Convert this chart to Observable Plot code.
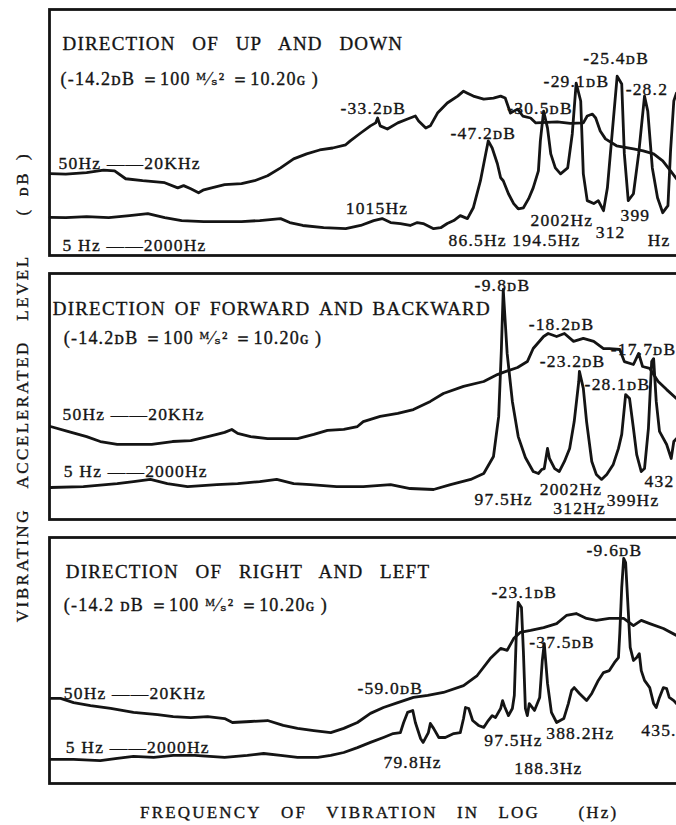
<!DOCTYPE html>
<html>
<head>
<meta charset="utf-8">
<script src="https://cdn.jsdelivr.net/npm/d3@7"></script>
<script src="https://cdn.jsdelivr.net/npm/@observablehq/plot@0.6"></script>
<style>
  body { margin: 0; background: #fff; }
  #wrap { position: relative; width: 676px; height: 825px; overflow: hidden; background: #fff; }
  #chart { position: absolute; left: 0; top: 0; width: 720px; }
  #chart svg { max-width: none !important; width: 720px; height: 790px; }
  #chart svg text { letter-spacing: 1.2px; }
  .ylab { position: absolute; left: 23px; top: 387px; transform: translate(-50%, -50%) rotate(-90deg);
          white-space: nowrap; font: 17px "Liberation Serif", "DejaVu Serif", serif; letter-spacing: 2.5px; color: #141414;
          -webkit-text-stroke: 0.35px #141414; }
  .xlab { position: absolute; left: 140px; top: 803px; white-space: nowrap; line-height: 18px;
          font: 17px "Liberation Serif", "DejaVu Serif", serif; letter-spacing: 2.2px; color: #141414;
          -webkit-text-stroke: 0.35px #141414; }
</style>
</head>
<body>
<div id="wrap">
  <div id="chart"></div>
  <div class="ylab" id="ylab"></div>
  <div class="xlab" id="xlab"></div>
</div>
<script>
// ---- panels (directions of vibration) ----
const panels = ["UP AND DOWN", "FORWARD AND BACKWARD", "RIGHT AND LEFT"];

// x: position along the log-frequency axis (% of panel width), y: relative level (% of panel height)
// Panel 1 - up and down
const upWide = [[0.1,33.3],[2.5,33.1],[5.7,33.7],[8.3,34.7],[10.0,34.4],[11.7,31.2],[14.3,30.4],[17.7,29.6],[19.7,27.5],[20.6,28.4],[21.7,27.1],[22.9,25.5],[23.7,26.7],[24.9,27.5],[26.9,28.8],[29.5,29.2],[31.5,30.4],[33.5,32.4],[35.5,35.6],[37.5,39.3],[39.5,41.3],[41.5,42.9],[43.5,43.7],[45.5,45.0],[46.2,46.6],[47.8,49.8],[49.3,52.7],[50.1,53.9],[50.4,55.9],[50.8,52.7],[51.9,51.4],[53.5,53.9],[55.0,55.5],[56.2,56.7],[56.7,54.7],[57.8,51.8],[58.5,52.7],[59.6,57.9],[61.1,62.0],[62.7,64.8],[63.6,66.8],[64.2,66.0],[65.1,64.8],[66.7,63.6],[68.2,64.0],[69.3,64.8],[70.0,64.0],[70.8,57.9],[71.9,59.5],[72.7,56.7],[73.9,55.9],[74.7,53.9],[78.0,54.3],[80.0,53.7],[82.0,53.9],[82.6,56.7],[83.4,57.5],[83.9,55.9],[84.6,50.6],[85.4,47.4],[87.1,44.6],[89.7,43.3],[91.2,42.5],[92.8,41.3],[94.2,38.5],[95.4,34.4],[96.3,31.2],[98.5,26.3]];
const upLow = [[0.1,15.5],[2.5,15.4],[5.7,15.8],[9.1,15.4],[12.3,16.2],[15.1,17.0],[17.7,15.4],[20.3,14.2],[23.7,13.8],[26.9,13.8],[29.5,13.8],[32.3,14.2],[35.5,15.0],[36.9,13.4],[38.9,12.2],[42.1,11.3],[45.5,10.9],[47.8,12.2],[49.8,14.2],[51.1,15.0],[52.4,13.4],[53.9,13.0],[55.4,12.2],[56.5,13.4],[57.4,13.0],[59.0,10.9],[60.1,11.3],[61.1,13.0],[62.1,14.2],[63.1,16.2],[64.2,15.0],[65.1,19.4],[66.2,30.4],[67.0,41.3],[67.4,46.6],[68.0,43.7],[68.8,37.3],[69.3,31.6],[69.7,30.4],[70.5,25.1],[71.3,21.1],[72.0,19.0],[72.8,19.4],[73.6,23.1],[74.3,27.5],[75.1,34.4],[75.4,46.6],[75.9,58.7],[76.5,51.8],[77.0,41.3],[77.7,35.6],[78.5,33.2],[79.6,35.6],[80.3,49.4],[80.9,70.1],[81.6,62.8],[82.0,33.2],[82.6,22.3],[83.6,21.1],[84.3,22.3],[85.1,18.2],[85.7,27.5],[86.5,51.8],[87.2,72.9],[87.9,69.7],[88.3,41.3],[88.9,22.3],[89.7,25.1],[90.5,41.3],[91.4,64.8],[91.9,58.7],[92.6,35.6],[93.4,23.5],[94.2,17.4],[95.0,20.3],[95.4,42.5],[95.9,62.8],[96.3,66.0],[98.5,64.8]];
// Panel 2 - forward and backward
const fbWide = [[0.15,37.8],[2.8,35.8],[5.7,33.7],[7.8,31.7],[10.4,30.5],[12.4,30.5],[15.7,30.5],[18.9,31.7],[21.7,32.1],[24.3,33.7],[25.7,34.6],[26.9,35.4],[28.0,36.6],[28.9,35.0],[30.9,33.7],[33.5,32.9],[35.5,32.9],[38.1,32.9],[40.6,34.6],[42.7,36.2],[45.2,36.6],[47.3,37.8],[48.2,39.8],[50.8,41.9],[53.5,43.1],[55.9,44.7],[58.5,48.0],[60.5,51.2],[63.6,54.1],[66.7,56.1],[68.8,58.9],[69.7,59.8],[71.9,61.8],[73.4,64.2],[74.3,69.5],[75.9,74.4],[76.6,75.6],[77.9,74.4],[79.1,75.6],[80.5,72.4],[82.0,73.6],[83.6,72.4],[85.1,69.5],[86.0,69.5],[87.6,69.1],[88.3,64.2],[89.7,63.0],[90.5,67.5],[91.1,62.2],[92.2,61.4],[93.5,56.1],[94.8,52.8],[96.3,49.2],[98.5,45.9]];
const fbLow = [[0.15,13.0],[5.2,13.4],[10.4,14.6],[12.9,15.4],[15.5,16.3],[18.1,14.6],[21.2,13.4],[25.7,14.2],[28.9,14.6],[32.3,15.4],[34.9,16.3],[37.5,14.6],[40.1,14.2],[44.1,13.4],[48.2,13.4],[52.4,14.2],[55.4,12.6],[59.0,12.2],[61.6,14.2],[64.7,16.3],[66.7,18.7],[68.2,25.6],[69.0,41.9],[69.4,68.3],[69.7,93.5],[70.3,67.5],[71.1,48.0],[72.0,33.7],[73.1,25.2],[74.3,19.5],[75.1,18.7],[75.6,20.3],[76.0,20.7],[76.5,28.9],[76.8,24.8],[77.6,20.7],[78.3,19.5],[79.1,23.6],[79.9,28.9],[80.6,39.8],[81.3,56.1],[81.4,60.2],[82.0,53.3],[82.5,39.8],[83.3,23.6],[84.0,18.3],[84.8,16.3],[85.6,18.3],[86.6,22.4],[87.4,28.9],[87.9,34.6],[88.5,50.8],[89.1,49.2],[89.7,37.0],[90.2,26.4],[90.9,19.5],[91.4,20.7],[92.0,37.0],[92.2,48.0],[92.5,64.2],[92.8,65.4],[93.2,48.0],[93.7,35.8],[94.8,30.5],[95.5,24.8],[95.9,31.7],[96.3,32.9],[98.5,31.7]];
// Panel 3 - right and left
const rlWide = [[0.15,34.6],[1.7,34.6],[3.7,32.9],[6.3,31.7],[9.4,30.5],[12.9,28.9],[16.6,28.0],[19.0,27.2],[21.7,26.8],[24.3,27.2],[26.9,26.4],[28.1,24.8],[30.9,25.2],[33.5,25.6],[35.9,23.6],[38.1,22.4],[40.6,21.5],[43.2,20.7],[45.2,22.4],[47.3,24.8],[49.3,28.5],[51.3,30.9],[53.5,32.9],[55.9,35.0],[58.1,35.8],[60.5,37.0],[63.6,39.8],[65.7,43.9],[67.7,50.8],[69.3,54.9],[70.3,54.1],[71.3,58.9],[72.3,61.4],[73.9,62.2],[75.9,63.4],[77.9,65.0],[79.4,68.3],[80.9,69.1],[82.5,67.1],[84.0,66.3],[86.0,67.1],[88.2,67.1],[89.7,64.2],[90.9,66.3],[92.2,65.0],[94.3,63.0],[96.3,60.2],[98.5,58.1]];
const rlLow = [[0.15,9.8],[3.7,9.8],[7.8,9.3],[10.4,10.2],[12.9,11.0],[16.0,10.6],[19.0,11.4],[22.3,11.4],[26.9,10.6],[30.4,11.4],[32.9,12.2],[35.5,11.4],[38.1,10.6],[41.2,10.6],[43.2,11.4],[45.2,12.6],[47.3,14.6],[49.3,16.7],[51.3,18.7],[52.8,20.3],[53.9,20.7],[54.4,24.8],[55.0,28.9],[55.8,29.7],[56.2,24.8],[57.0,18.3],[57.4,16.7],[58.2,20.7],[58.5,24.4],[59.0,22.4],[59.8,18.7],[60.8,18.7],[62.1,20.3],[63.1,20.7],[63.6,26.4],[63.9,30.9],[64.4,30.5],[65.0,25.6],[65.9,23.6],[66.7,22.8],[67.4,25.6],[68.0,27.6],[68.5,26.8],[69.3,30.5],[69.6,33.7],[69.9,31.3],[70.5,27.6],[71.1,30.5],[71.4,35.8],[71.7,60.2],[72.0,73.6],[72.5,71.5],[72.8,53.3],[73.1,30.5],[73.4,27.6],[73.7,32.5],[74.5,29.7],[75.3,35.0],[75.7,50.0],[76.0,56.9],[76.5,40.7],[77.1,28.9],[77.9,24.8],[79.0,26.4],[79.7,32.5],[80.2,37.8],[80.6,39.0],[81.4,36.6],[82.5,33.7],[83.3,36.6],[84.3,41.9],[85.1,45.1],[86.0,45.9],[86.8,49.2],[87.4,51.2],[87.6,61.0],[87.9,79.7],[88.2,91.5],[88.5,89.8],[88.9,70.3],[89.2,55.3],[89.7,50.0],[90.2,51.2],[90.6,52.8],[90.9,45.9],[91.4,41.9],[92.2,39.0],[92.8,32.5],[93.2,30.9],[93.7,35.0],[94.3,39.0],[94.8,38.6],[95.2,35.0],[95.9,33.7],[96.3,32.5],[98.5,31.7]];

// ---- texts ----
const titles = [
  [panels[0], 2.0, 85.9, "DIRECTION\u2002 OF\u2002 UP\u2002 AND\u2002 DOWN"],
  [panels[1], 0.5, 85.8, "DIRECTION \u200AOF \u200AFORWARD \u200AAND \u200ABACKWARD"],
  [panels[2], 2.5, 86.2, "DIRECTION\u2002 OF\u2002 RIGHT\u2002 AND\u2002 LEFT"]
];
const subtitles = [
  [panels[0], 1.7, 71.7, "(-14.2ᴅB ＝100 ᴹ⁄ₛ² ＝10.20ɢ )"],
  [panels[1], 2.2, 73.6, "(-14.2ᴅB ＝100 ᴹ⁄ₛ² ＝10.20ɢ )"],
  [panels[2], 2.2, 72.4, "(-14.2 ᴅB ＝100 ᴹ⁄ₛ² ＝10.20ɢ )"]
];
const sweepLabels = [
  [panels[0], 1.4, 37.3, "50Hz ——20KHz"], [panels[0], 2.0, 4.0, "5 Hz ——2000Hz"],
  [panels[1], 2.0, 42.7, "50Hz ——20KHz"], [panels[1], 2.2, 19.5, "5 Hz ——2000Hz"],
  [panels[2], 2.2, 36.6, "50Hz ——20KHz"], [panels[2], 2.5, 14.6, "5 Hz ——2000Hz"]
];
const peakLabels = [
  [panels[0], 44.7, 59.9, "-33.2ᴅB"], [panels[0], 45.5, 19.0, "1015Hz"], [panels[0], 61.6, 49.8, "-47.2ᴅB"],
  [panels[0], 61.3, 6.1, "86.5Hz 194.5Hz"], [panels[0], 70.3, 59.9, "-30.5ᴅB"], [panels[0], 73.9, 14.2, "2002Hz"],
  [panels[0], 75.9, 70.9, "-29.1ᴅB"], [panels[0], 82.0, 80.2, "-25.4ᴅB"], [panels[0], 88.5, 67.6, "-28.2"],
  [panels[0], 83.9, 9.3, "312"], [panels[0], 87.7, 16.2, "399"], [panels[0], 91.9, 6.1, "Hz"],
  [panels[1], 65.3, 95.1, "-9.8ᴅB"], [panels[1], 73.6, 79.3, "-18.2ᴅB"], [panels[1], 86.2, 69.1, "-17.7ᴅB"],
  [panels[1], 75.3, 64.2, "-23.2ᴅB"], [panels[1], 82.2, 54.9, "-28.1ᴅB"], [panels[1], 65.3, 8.1, "97.5Hz"],
  [panels[1], 75.3, 12.2, "2002Hz"], [panels[1], 77.4, 4.5, "312Hz"], [panels[1], 85.6, 7.7, "399Hz"],
  [panels[1], 91.4, 15.4, "432"],
  [panels[2], 47.3, 38.6, "-59.0ᴅB"], [panels[2], 51.3, 8.5, "79.8Hz"], [panels[2], 66.8, 17.5, "97.5Hz"],
  [panels[2], 71.4, 6.1, "188.3Hz"], [panels[2], 76.3, 20.3, "388.2Hz"], [panels[2], 90.9, 21.5, "435."],
  [panels[2], 67.9, 77.6, "-23.1ᴅB"], [panels[2], 73.7, 57.3, "-37.5ᴅB"], [panels[2], 82.5, 94.7, "-9.6ᴅB"]
];
const yTitle = "VIBRATING\u2003ACCELERATED\u2003LEVEL\u2003\u2003(\u2002ᴅB\u2002)";
const xTitle = "FREQUENCY\u2003OF\u2003VIBRATION\u2003IN\u2003LOG\u2003\u2003(Hz)";

// ---- build rows ----
const curves = [
  [panels[0], "50Hz-20KHz", upWide], [panels[0], "5Hz-2000Hz", upLow],
  [panels[1], "50Hz-20KHz", fbWide], [panels[1], "5Hz-2000Hz", fbLow],
  [panels[2], "50Hz-20KHz", rlWide], [panels[2], "5Hz-2000Hz", rlLow]
];
const lineRows = curves.flatMap(([panel, sweep, pts]) => pts.map(([x, y]) => ({panel, sweep, key: panel + sweep, x, y})));
const toRows = arr => arr.map(([panel, x, y, text]) => ({panel, x, y, text}));

const ink = "#141414";
const serif = '"Liberation Serif", "DejaVu Serif", serif';
const txt = (rows, size) => Plot.text(toRows(rows), {
  x: "x", y: "y", fy: "panel", text: "text", textAnchor: "start",
  fontSize: size, fontFamily: serif, fill: ink, stroke: ink, strokeWidth: 0.35
});

const chart = Plot.plot({
  width: 720, height: 790,
  marginLeft: 49, marginRight: 20, marginTop: 8, marginBottom: 7,
  x: {domain: [0, 100], axis: null},
  y: {domain: [0, 100], axis: null},
  fy: {domain: panels, axis: null, paddingInner: 0.07, paddingOuter: 0},
  style: {background: "white", color: ink},
  marks: [
    Plot.frame({stroke: ink, strokeWidth: 2.8}),
    Plot.line(lineRows, {x: "x", y: "y", z: "key", fy: "panel", stroke: ink, strokeWidth: 2.8,
      strokeLinejoin: "round", strokeLinecap: "round"}),
    txt(titles, 19),
    txt(subtitles, 18),
    txt(sweepLabels, 17.5),
    txt(peakLabels, 17.5)
  ]
});
document.getElementById("chart").appendChild(chart);
document.getElementById("ylab").textContent = yTitle;
document.getElementById("xlab").textContent = xTitle;
</script>
</body>
</html>
